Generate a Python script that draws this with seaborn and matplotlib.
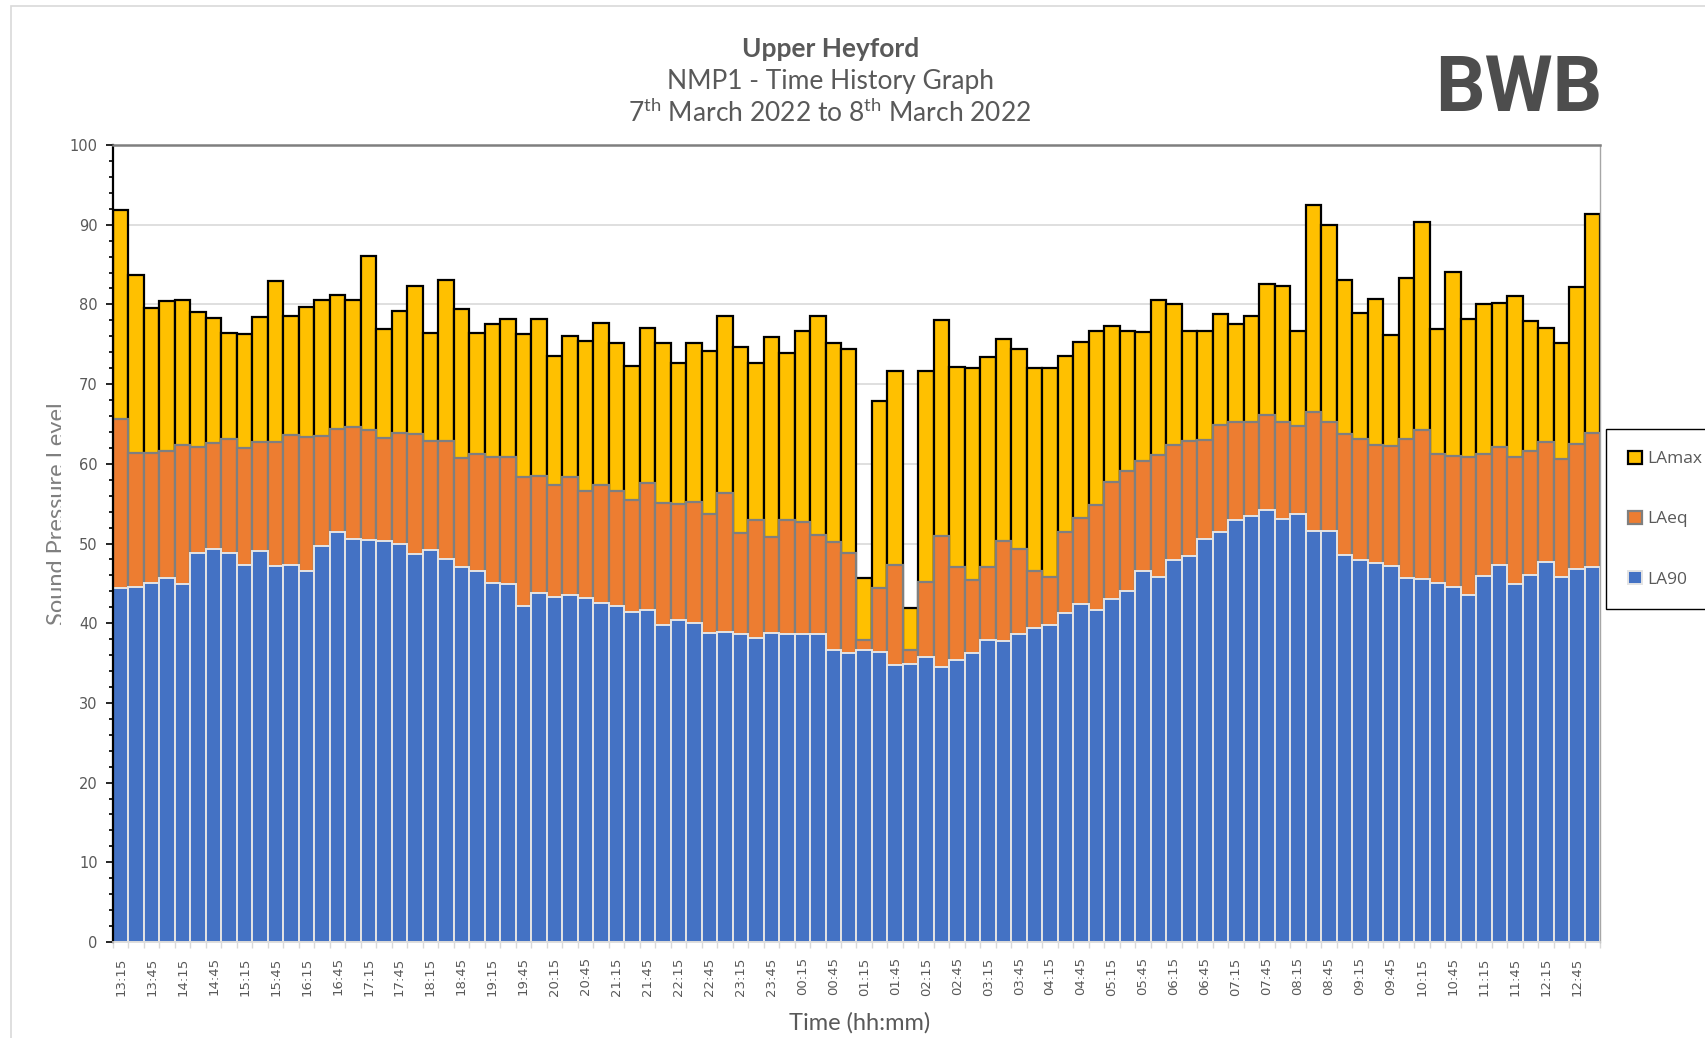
import pandas as pd
import seaborn as sns
import matplotlib.pyplot as plt
from matplotlib.patches import Rectangle
from matplotlib.ticker import MultipleLocator, FixedLocator
from matplotlib.transforms import Bbox

# 15 minute periods, 13:15 on 7th March to 13:00 on 8th March
times = list(pd.date_range("2022-03-07 13:15", periods=96, freq="15min").strftime("%H:%M"))

lamax = [91.9, 83.7, 79.6, 80.4, 80.5, 79.0, 78.3, 76.4, 76.3, 78.4, 82.9, 78.6, 79.7, 80.6, 81.2, 80.5,
         86.1, 76.9, 79.2, 82.3, 76.4, 83.1, 79.4, 76.4, 77.5, 78.2, 76.3, 78.2, 73.5, 76.0, 75.4, 77.7,
         75.2, 72.3, 77.0, 75.1, 72.7, 75.2, 74.2, 78.6, 74.6, 72.7, 75.9, 73.9, 76.7, 78.6, 75.1, 74.4,
         45.7, 67.9, 71.6, 41.9, 71.6, 78.1, 72.2, 72.0, 73.4, 75.6, 74.4, 72.0, 72.0, 73.5, 75.3, 76.7,
         77.3, 76.7, 76.5, 80.6, 80.1, 76.7, 76.7, 78.8, 77.5, 78.5, 82.6, 82.3, 76.7, 92.5, 89.9, 83.1,
         78.9, 80.7, 76.2, 83.3, 90.3, 76.9, 84.1, 78.2, 80.0, 80.2, 81.0, 77.9, 77.1, 75.2, 82.2, 91.3]

laeq = [65.6, 61.4, 61.4, 61.6, 62.3, 62.1, 62.6, 63.1, 62.0, 62.7, 62.7, 63.6, 63.3, 63.5, 64.4, 64.6,
        64.3, 63.2, 63.9, 63.8, 62.9, 62.9, 60.7, 61.2, 60.9, 60.8, 58.3, 58.5, 57.4, 58.3, 56.6, 57.3,
        56.6, 55.4, 57.6, 55.1, 54.9, 55.2, 53.7, 56.3, 51.3, 52.9, 50.8, 52.9, 52.7, 51.1, 50.2, 48.8,
        37.9, 44.4, 47.3, 36.7, 45.2, 50.9, 47.0, 45.4, 47.1, 50.3, 49.3, 46.6, 45.8, 51.5, 53.2, 54.8,
        57.7, 59.1, 60.3, 61.1, 62.4, 62.8, 63.0, 64.9, 65.2, 65.2, 66.1, 65.3, 64.7, 66.5, 65.2, 63.8,
        63.1, 62.3, 62.2, 63.1, 64.2, 61.2, 61.0, 60.8, 61.2, 62.1, 60.8, 61.6, 62.7, 60.6, 62.5, 63.9]

la90 = [44.4, 44.5, 45.1, 45.7, 44.9, 48.8, 49.3, 48.8, 47.3, 49.1, 47.2, 47.3, 46.6, 49.7, 51.4, 50.6,
        50.5, 50.3, 50.0, 48.7, 49.2, 48.0, 47.0, 46.6, 45.0, 44.9, 42.2, 43.8, 43.3, 43.5, 43.1, 42.5,
        42.1, 41.4, 41.7, 39.8, 40.4, 40.0, 38.8, 38.9, 38.6, 38.1, 38.8, 38.6, 38.6, 38.6, 36.6, 36.2,
        36.7, 36.4, 34.7, 34.9, 35.7, 34.5, 35.4, 36.3, 37.9, 37.8, 38.6, 39.4, 39.8, 41.3, 42.4, 41.6,
        43.0, 44.0, 46.5, 45.8, 47.9, 48.4, 50.6, 51.4, 53.0, 53.4, 54.2, 53.1, 53.7, 51.6, 51.6, 48.6,
        47.9, 47.6, 47.2, 45.7, 45.6, 45.1, 44.6, 43.5, 45.9, 47.3, 44.9, 46.0, 47.7, 45.8, 46.8, 47.0]

df = pd.DataFrame({"time": times, "LAmax": lamax, "LAeq": laeq, "LA90": la90})

sns.set_style("white")
plt.rcParams["font.family"] = ["DejaVu Sans"]
plt.rcParams["mathtext.fontset"] = "custom"
plt.rcParams["mathtext.rm"] = "Lato"

grey = "#595959"

fig = plt.figure(figsize=(17.06, 10.38), dpi=100)
ax = fig.add_axes([113 / 1706, 1 - 942 / 1038, 1487 / 1706, 797 / 1038])

# overlaid bars, tallest series at the back
series = [("LAmax", "#FFC000", "black", 1.6),
          ("LAeq", "#ED7D31", "#7F7F7F", 1.6),
          ("LA90", "#4472C4", "#E4E4E4", 1.4)]
for name, fc, ec, lw in series:
    sns.barplot(data=df, x="time", y=name, color=fc, saturation=1, width=1.0,
                edgecolor=ec, linewidth=lw, errorbar=None, label=name, ax=ax)

handles, labels = ax.get_legend_handles_labels()
if ax.get_legend() is not None:
    ax.get_legend().remove()

ax.set_xlim(-0.5, len(times) - 0.5)
ax.set_ylim(0, 100)
ax.set_axisbelow(True)
ax.yaxis.grid(True, color="#D9D9D9", linewidth=1.2)
ax.xaxis.grid(False)

ax.yaxis.set_major_locator(MultipleLocator(10))
ax.yaxis.set_minor_locator(MultipleLocator(2))
ax.tick_params(axis="y", which="major", left=True, length=5, width=1.2, color="black",
               labelsize=10.5, labelcolor=grey, pad=6)
ax.tick_params(axis="y", which="minor", left=True, length=3, width=1.2, color="black")

ax.set_xticks(range(0, len(times), 2))
ax.set_xticklabels(times[::2], rotation=90)
ax.xaxis.set_minor_locator(FixedLocator([i - 0.5 for i in range(len(times) + 1)]))
ax.tick_params(axis="x", which="major", length=0, labelsize=9.5, labelcolor=grey, pad=11)
ax.tick_params(axis="x", which="minor", bottom=True, length=4, width=1, color="#D9D9D9")

ax.set_xlabel("")
ax.set_ylabel("")

ax.spines["left"].set_color("black")
ax.spines["left"].set_linewidth(1.6)
ax.spines["top"].set_color("#7F7F7F")
ax.spines["top"].set_linewidth(1.8)
ax.spines["right"].set_color("#A6A6A6")
ax.spines["right"].set_linewidth(1.0)
ax.spines["bottom"].set_color("#D9D9D9")
ax.spines["bottom"].set_linewidth(1.2)

# titles
fig.text(0.4866, 1 - 49 / 1038, "Upper Heyford", ha="center", va="center",
         fontsize=19, fontweight="bold", color=grey, family="Lato")
fig.text(0.4866, 1 - 81 / 1038, "NMP1 - Time History Graph", ha="center", va="center",
         fontsize=19, color=grey, family="Lato")
fig.text(0.4866, 1 - 113 / 1038, r"7$^{\mathrm{th}}$ March 2022 to 8$^{\mathrm{th}}$ March 2022",
         ha="center", va="center", fontsize=19, color=grey, family="Lato")

# logo
fig.text(1519 / 1706, 1 - 111 / 1038, "BWB", ha="center", va="baseline",
         fontsize=56, fontweight="bold", color="#4D4D4D", family="Roboto")

# axis titles
fig.text(860 / 1706, 1 - 1023 / 1038, "Time (hh:mm)", ha="center", va="center",
         fontsize=17, color=grey, family="Lato")
ylab = fig.text(58 / 1706, 1 - 514 / 1038, "Sound Pressure Level", ha="center", va="center",
                rotation=90, fontsize=17, color="#7F7F7F", family="Lato")
ylab.set_clip_box(Bbox.from_extents(0, 0, 61, 1038))

# chart area border
fig.add_artist(Rectangle((11 / 1706, -0.05), 1.2, 1.05 - 6 / 1038, transform=fig.transFigure,
                         fill=False, edgecolor="#D9D9D9", linewidth=1.2))

leg = fig.legend(handles, labels, loc="upper left", bbox_to_anchor=(1606 / 1706, 1 - 429 / 1038),
                 frameon=True, fancybox=False, edgecolor="black", framealpha=1,
                 handlelength=0.8, handleheight=0.8, handletextpad=0.3,
                 labelspacing=2.5, borderpad=1.25, borderaxespad=0,
                 prop={"family": "Open Sans", "size": 12.5})
leg.get_frame().set_linewidth(1.0)
for t in leg.get_texts():
    t.set_color(grey)

fig.savefig("out.png", dpi=100)
